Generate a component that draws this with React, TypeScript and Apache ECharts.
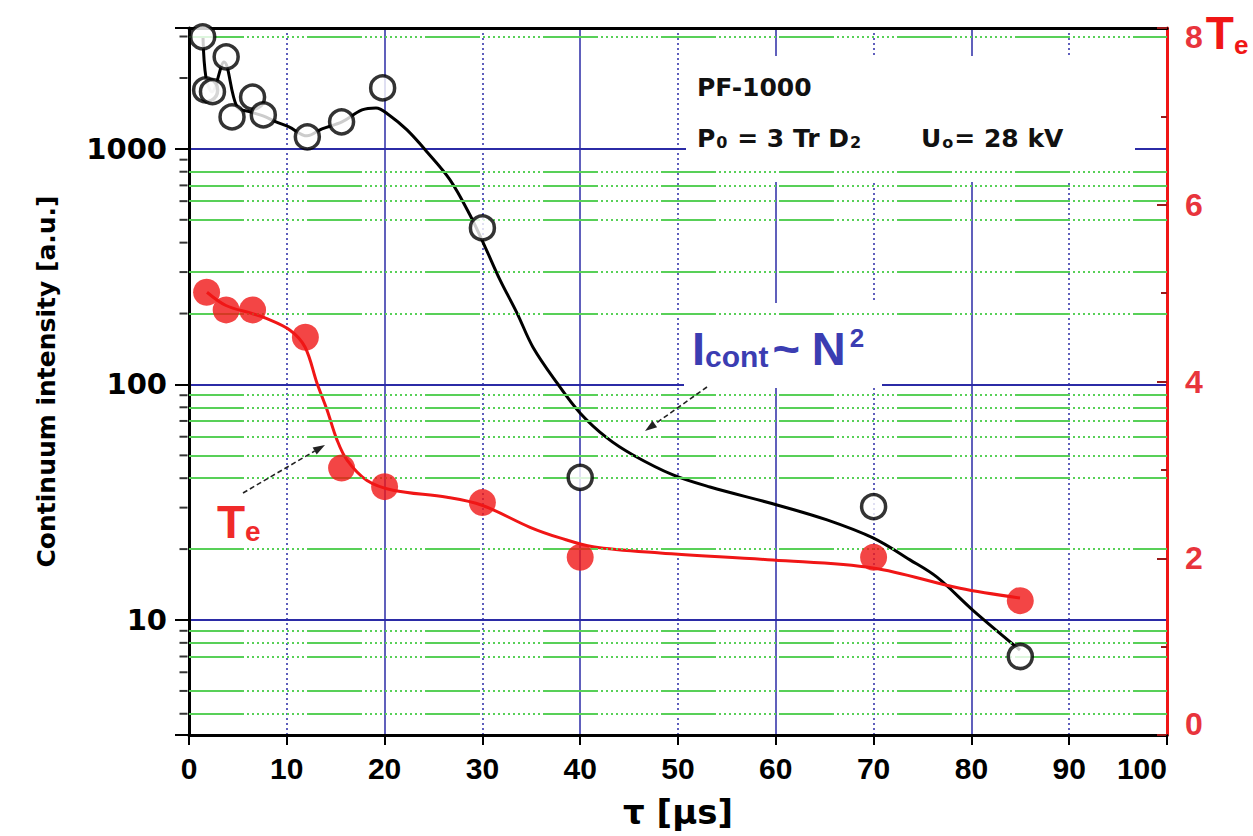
import React, { useEffect, useRef } from "react";
import * as echarts from "echarts";

// ---------- data ----------
const contTau = [1.4, 1.7, 2.4, 3.8, 4.4, 6.5, 7.6, 12.1, 15.6, 19.8, 30, 40, 70, 85];
const contIntensity = [2990, 1780, 1750, 2460, 1367, 1660, 1394, 1125, 1303, 1815, 462, 40.3, 30.3, 7.0];

const fitTau = [1.43, 1.74, 2.35, 3.58, 4.91, 6.24, 7.57, 8.9, 10.22, 12.07, 13.6, 15.64, 17.69, 19.12, 20.45, 22.29, 24.34, 26.69, 28.73, 30.27, 31.8, 33.54, 35.17, 37.63, 39.98, 42.74, 45.4, 49.49, 53.27, 60.12, 65.24, 69.94, 73.72, 76.48, 80.16, 84.97];
const fitIntensity = [2988, 2001, 1746, 2341, 1508, 1436, 1381, 1302, 1240, 1136, 1216, 1302, 1464, 1493, 1394, 1204, 971, 739, 524, 384, 278, 201, 144, 101.5, 75.7, 59.3, 50.2, 41.3, 36.7, 30.8, 26.6, 22.3, 18.0, 15.2, 11.0, 7.46];

const teTau = [1.8, 3.8, 6.5, 11.9, 15.6, 20, 30, 40, 70, 85];
const teValues = [5.01, 4.81, 4.81, 4.5, 3.02, 2.81, 2.63, 2.01, 2.01, 1.52];

const teFitTau = [1.84, 3.78, 6.44, 7.77, 10.33, 11.86, 13.09, 14.11, 15.13, 16.16, 18.2, 20.86, 26.38, 29.96, 34.87, 37.93, 41.31, 48.16, 59.71, 69.94, 78.83, 84.97];
const teFit = [5.01, 4.86, 4.77, 4.72, 4.58, 4.39, 3.98, 3.68, 3.34, 3.11, 2.88, 2.77, 2.69, 2.6, 2.35, 2.23, 2.13, 2.06, 1.98, 1.89, 1.66, 1.55];

// axis helpers
const logMajorLabels = [10, 100, 1000];
const logMinorTicks = [4, 5, 6, 7, 8, 9, 20, 30, 40, 50, 60, 70, 80, 90, 200, 300, 400, 500, 600, 700, 800, 900, 2000, 3000];
const greenLines = [4, 5, 7, 8, 9, 20, 40, 50, 60, 70, 80, 90, 200, 300, 500, 600, 700, 800, 3000];

const BLUE = "#2b2ba6";
const GREEN = "#58d058";
const RED = "#f01616";
const LABEL_RED = "#e8343c";
const ICONT_BLUE = "#3b3db2";
const DEJAVU = "'DejaVu Sans', Verdana, sans-serif";
const LIB = "'Liberation Sans', Arial, sans-serif";

const greenDash: number[] = [55, 3];
for (let i = 0; i < 12; i++) greenDash.push(2, 3);

function arrow(x1: number, y1: number, x2: number, y2: number) {
  const dx = x2 - x1;
  const dy = y2 - y1;
  const len = Math.sqrt(dx * dx + dy * dy);
  const ux = dx / len;
  const uy = dy / len;
  const bx = x2 - 12 * ux;
  const by = y2 - 12 * uy;
  const px = -uy;
  const py = ux;
  return [
    {
      type: "line",
      z: 7,
      shape: { x1, y1, x2: bx, y2: by },
      style: { stroke: "#222", lineWidth: 1.6, lineDash: [5, 3] },
    },
    {
      type: "polygon",
      z: 7,
      shape: {
        points: [
          [x2, y2],
          [bx + 4 * px, by + 4 * py],
          [bx - 4 * px, by - 4 * py],
        ],
      },
      style: { fill: "#222" },
    },
  ];
}

export default function App() {
  const ref = useRef<HTMLDivElement>(null);

  useEffect(() => {
    if (!ref.current) return;
    document.body.style.margin = "0";
    document.body.style.overflow = "hidden";
    const chart = echarts.init(ref.current, undefined, { renderer: "svg" });

    const paramRich = {
      m: { fill: "#111", fontSize: 25, fontWeight: "bold", fontFamily: DEJAVU, verticalAlign: "top" },
      s: { fill: "#111", fontSize: 16, fontWeight: "bold", fontFamily: DEJAVU, verticalAlign: "bottom", padding: [0, 1, 0, 1] },
    };

    const option: any = {
      animation: false,
      backgroundColor: "#ffffff",
      grid: {
        left: 189,
        right: 86,
        top: 28,
        bottom: 101,
        containLabel: false,
        outerBoundsMode: "none",
      },
      xAxis: [
        {
          type: "value",
          min: 0,
          max: 100,
          interval: 10,
          position: "bottom",
          axisLine: { show: true, onZero: false, lineStyle: { color: "#000", width: 3 } },
          axisTick: { show: true, length: 10, lineStyle: { color: "#000", width: 2 } },
          axisLabel: {
            color: "#000",
            fontSize: 30,
            fontWeight: "bold",
            fontFamily: "'Liberation Sans Narrow', 'Liberation Sans', Arial, sans-serif",
            margin: 18,
            alignMaxLabel: "right",
          },
          splitLine: { show: true, lineStyle: { color: [BLUE, "rgba(0,0,0,0)"], width: 1.5 } },
          name: "τ [μs]",
          nameLocation: "middle",
          nameGap: 60,
          nameTextStyle: {
            color: "#000",
            fontSize: 34,
            fontWeight: "bold",
            fontFamily: DEJAVU,
          },
        },
        {
          type: "value",
          min: 0,
          max: 100,
          interval: 10,
          position: "top",
          axisLine: { show: true, onZero: false, lineStyle: { color: "#000", width: 3 } },
          axisTick: { show: false },
          axisLabel: { show: false },
          splitLine: {
            show: true,
            lineStyle: { color: ["rgba(0,0,0,0)", BLUE], width: 1.5, type: [2, 3] },
          },
        },
      ],
      yAxis: [
        {
          type: "log",
          logBase: 10,
          min: 3.25,
          max: 3260,
          position: "left",
          axisLine: { show: true, onZero: false, lineStyle: { color: "#000", width: 3 } },
          axisTick: { show: true, length: 14, lineStyle: { color: "#000", width: 2 } },
          axisLabel: {
            color: "#000",
            fontSize: 29,
            fontWeight: "bold",
            fontFamily: DEJAVU,
            margin: 22,
            formatter: (v: number) => {
              const r = Math.round(v);
              return logMajorLabels.indexOf(r) >= 0 && Math.abs(v - r) < 1e-6 * r ? String(r) : "";
            },
          },
          splitLine: { show: true, lineStyle: { color: BLUE, width: 2 } },
          name: "Continuum intensity [a.u.]",
          nameLocation: "middle",
          nameGap: 130,
          nameRotate: 90,
          nameTextStyle: {
            color: "#000",
            fontSize: 25,
            fontWeight: "bold",
            fontFamily: DEJAVU,
          },
        },
        {
          type: "value",
          min: 0,
          max: 8,
          interval: 2,
          position: "right",
          axisLine: { show: true, onZero: false, lineStyle: { color: RED, width: 3 } },
          axisTick: { show: true, inside: true, length: 10, lineStyle: { color: "#9a1a1a", width: 2 } },
          minorTick: { show: true, splitNumber: 2, length: 6, lineStyle: { color: "#9a1a1a", width: 2 } },
          splitLine: { show: false },
          axisLabel: {
            margin: 18,
            formatter: (v: number) => {
              if (v === 8) return "{top|8}{t|T}{e|e}";
              if (v === 0) return "{bot|0}";
              return "{n|" + v + "}";
            },
            rich: {
              n: { color: LABEL_RED, fontSize: 32, fontWeight: "bold", fontFamily: LIB },
              top: {
                color: LABEL_RED,
                fontSize: 32,
                fontWeight: "bold",
                fontFamily: LIB,
                padding: [18, 0, 0, 0],
              },
              bot: {
                color: LABEL_RED,
                fontSize: 32,
                fontWeight: "bold",
                fontFamily: LIB,
                padding: [0, 0, 22, 0],
              },
              t: {
                color: RED,
                fontSize: 46,
                fontWeight: "bold",
                fontFamily: LIB,
                padding: [10, 0, 0, 3],
              },
              e: {
                color: RED,
                fontSize: 26,
                fontWeight: "bold",
                fontFamily: LIB,
                padding: [34, 0, 0, 0],
              },
            },
          },
        },
      ],
      series: [
        {
          name: "ticks",
          type: "scatter",
          xAxisIndex: 0,
          yAxisIndex: 0,
          data: logMinorTicks.map((v) => [0, v]),
          symbol: "rect",
          symbolSize: [8, 2],
          symbolOffset: [-5.5, 0],
          itemStyle: { color: "#000" },
          clip: false,
          silent: true,
          z: 1,
          markLine: {
            silent: true,
            symbol: ["none", "none"],
            label: { show: false },
            lineStyle: { color: GREEN, width: 2, type: greenDash },
            data: greenLines.map((v) => ({ yAxis: v })),
          },
        },
        {
          name: "fit",
          type: "line",
          xAxisIndex: 0,
          yAxisIndex: 0,
          data: fitTau.map((t, i) => [t, fitIntensity[i]]),
          smooth: 0.35,
          showSymbol: false,
          symbol: "none",
          lineStyle: { color: "#000", width: 3 },
          z: 4,
        },
        {
          name: "continuum",
          type: "scatter",
          xAxisIndex: 0,
          yAxisIndex: 0,
          data: contTau.map((t, i) => [t, contIntensity[i]]),
          symbol: "circle",
          symbolSize: 24,
          itemStyle: { color: "#fff", borderColor: "#000", borderWidth: 3.5 },
          z: 5,
        },
        {
          name: "teFit",
          type: "line",
          xAxisIndex: 0,
          yAxisIndex: 1,
          data: teFitTau.map((t, i) => [t, teFit[i]]),
          smooth: 0.35,
          showSymbol: false,
          symbol: "none",
          lineStyle: { color: RED, width: 3 },
          z: 4,
        },
        {
          name: "Te",
          type: "scatter",
          xAxisIndex: 0,
          yAxisIndex: 1,
          data: teTau.map((t, i) => [t, teValues[i]]),
          symbol: "circle",
          symbolSize: 27,
          itemStyle: { color: RED },
          z: 5,
        },
      ],
      graphic: [
        { type: "rect", z: 3, shape: { x: 686, y: 56, width: 449, height: 126 }, style: { fill: "#fff" } },
        { type: "rect", z: 3, shape: { x: 684, y: 303, width: 198, height: 85 }, style: { fill: "#fff" } },
        { type: "rect", z: 3, shape: { x: 204, y: 486, width: 64, height: 76 }, style: { fill: "#fff" } },
        {
          type: "text",
          z: 6,
          x: 697,
          y: 87,
          style: {
            text: "PF-1000",
            fill: "#111",
            font: "bold 25px 'DejaVu Sans', Verdana, sans-serif",
            verticalAlign: "middle",
            align: "left",
          },
        },
        {
          type: "text",
          z: 6,
          x: 697,
          y: 138,
          style: {
            text: "{m|P}{s|0}{m| = 3 Tr D}{s|2}",
            verticalAlign: "middle",
            align: "left",
            rich: paramRich,
          },
        },
        {
          type: "text",
          z: 6,
          x: 921,
          y: 138,
          style: {
            text: "{m|U}{s|o}{m|= 28 kV}",
            verticalAlign: "middle",
            align: "left",
            rich: paramRich,
          },
        },
        {
          type: "text",
          z: 6,
          x: 692,
          y: 348,
          style: {
            text: "{b|I}{s|cont}{w|~}{b|N}{p|2}",
            verticalAlign: "middle",
            align: "left",
            rich: {
              b: { fill: ICONT_BLUE, fontSize: 47, fontWeight: "bold", fontFamily: LIB, verticalAlign: "middle" },
              w: { fill: ICONT_BLUE, fontSize: 47, fontWeight: "bold", fontFamily: LIB, verticalAlign: "middle", padding: [0, 12, 0, 4] },
              s: { fill: ICONT_BLUE, fontSize: 30, fontWeight: "bold", fontFamily: LIB, verticalAlign: "bottom" },
              p: { fill: ICONT_BLUE, fontSize: 26, fontWeight: "bold", fontFamily: LIB, verticalAlign: "top", padding: [0, 0, 0, 4] },
            },
          },
        },
        {
          type: "text",
          z: 6,
          x: 217,
          y: 522,
          style: {
            text: "{b|T}{s|e}",
            verticalAlign: "middle",
            align: "left",
            rich: {
              b: { fill: "#f02a2a", fontSize: 46, fontWeight: "bold", fontFamily: LIB, verticalAlign: "top" },
              s: { fill: "#f02a2a", fontSize: 28, fontWeight: "bold", fontFamily: LIB, verticalAlign: "bottom" },
            },
          },
        },
        ...arrow(243, 493, 325, 445),
        ...arrow(707, 387, 645, 431),
      ],
    };

    chart.setOption(option);
    return () => {
      chart.dispose();
    };
  }, []);

  return (
    <div
      ref={ref}
      style={{
        position: "absolute",
        left: 0,
        top: 0,
        width: 1253,
        height: 836,
        overflow: "hidden",
        background: "#fff",
      }}
    />
  );
}
